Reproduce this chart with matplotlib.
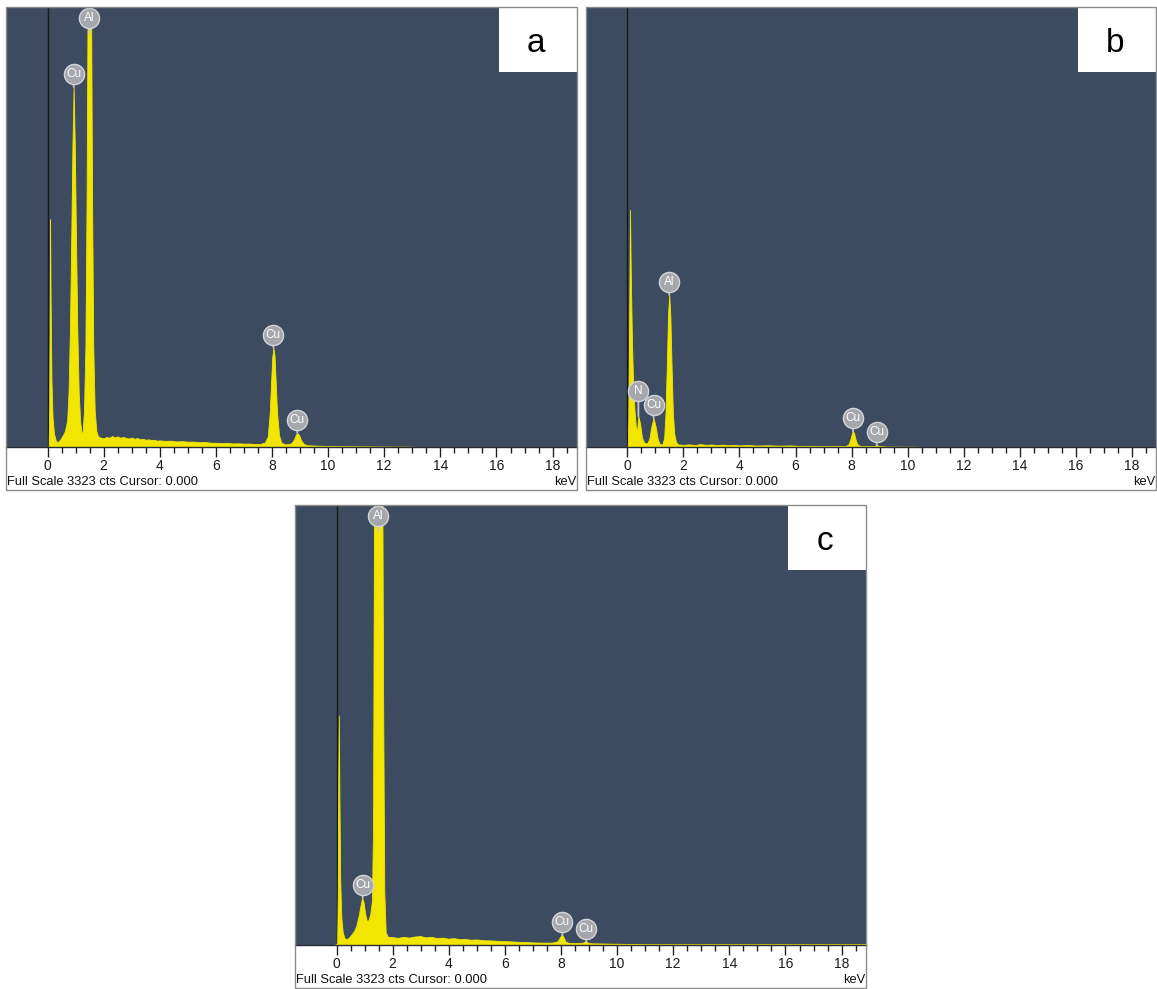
import matplotlib
matplotlib.use('Agg')
import matplotlib.pyplot as plt
from matplotlib.patches import Rectangle
from matplotlib.transforms import offset_copy
import numpy as np

plt.rcParams['font.family'] = ['Liberation Sans', 'DejaVu Sans']

# ---------------- data ----------------
FULL_SCALE = 3323          # counts at the top of each spectrum window
STATUS_TEXT = 'Full Scale 3323 cts Cursor: 0.000'
UNIT_TEXT = 'keV'
tick_values = [0, 2, 4, 6, 8, 10, 12, 14, 16, 18]
panel_letters = ['a', 'b', 'c']

# panel a spectrum
a_kev = [-0.02, 0.04, 0.06, 0.08, 0.09, 0.11, 0.14, 0.18, 0.23, 0.30,
         0.36, 0.45, 0.55, 0.62, 0.70, 0.75, 0.80, 0.85, 0.89, 0.93,
         0.97, 1.01, 1.06, 1.11, 1.16, 1.21, 1.25, 1.30, 1.35, 1.39,
         1.43, 1.46, 1.49, 1.52, 1.55, 1.59, 1.63, 1.68, 1.74, 1.80,
         1.90, 2.00, 2.10, 2.20, 2.30, 2.40, 2.50, 2.60, 2.70, 2.80,
         2.90, 3.00, 3.10, 3.20, 3.30, 3.40, 3.50, 3.60, 3.70, 3.80,
         3.90, 4.00, 4.20, 4.40, 4.60, 4.80, 5.00, 5.20, 5.40, 5.60,
         5.80, 6.00, 6.20, 6.40, 6.60, 6.80, 7.00, 7.20, 7.40, 7.60,
         7.75, 7.85, 7.92, 7.97, 8.01, 8.05, 8.09, 8.13, 8.18, 8.25,
         8.33, 8.45, 8.60, 8.70, 8.78, 8.85, 8.90, 8.96, 9.03, 9.12,
         9.25, 9.40, 9.60, 9.80, 10.0, 10.3, 10.6, 10.9, 11.2, 11.5,
         11.8, 12.1, 12.4, 12.7, 13.0, 13.2, 18.9]
a_cts = [0, 0, 300, 1200, 1720, 1100, 500, 220, 100, 45,
         35, 55, 90, 120, 200, 420, 900, 1650, 2300, 2720,
         2300, 1650, 900, 420, 200, 110, 110, 280, 750, 1800,
         3400, 4300, 4600, 4300, 3400, 1800, 750, 280, 120, 80,
         70, 66, 76, 70, 82, 74, 80, 70, 76, 68,
         64, 72, 62, 68, 58, 62, 54, 58, 52, 55,
         48, 50, 46, 48, 42, 44, 40, 41, 36, 38,
         33, 32, 30, 31, 27, 28, 25, 26, 22, 24,
         34, 80, 260, 500, 680, 750, 690, 500, 260, 90,
         35, 20, 22, 30, 55, 92, 106, 92, 55, 24,
         14, 12, 10, 9, 8, 7, 6, 6, 5, 5,
         4, 4, 3, 3, 2, 0, 0]

# panel b spectrum
b_kev = [-0.02, 0.01, 0.03, 0.06, 0.09, 0.12, 0.16, 0.20, 0.25, 0.30,
         0.34, 0.39, 0.45, 0.52, 0.60, 0.70, 0.78, 0.85, 0.93, 1.01,
         1.08, 1.15, 1.25, 1.31, 1.36, 1.41, 1.45, 1.49, 1.53, 1.57,
         1.62, 1.67, 1.73, 1.80, 2.00, 2.20, 2.40, 2.60, 2.80, 3.00,
         3.20, 3.40, 3.60, 3.80, 4.00, 4.30, 4.60, 5.00, 5.40, 5.80,
         6.20, 6.60, 7.00, 7.40, 7.80, 7.90, 7.97, 8.02, 8.05, 8.09,
         8.14, 8.20, 8.30, 8.60, 8.80, 8.90, 9.00, 9.20, 9.60, 10.2,
         10.6, 18.9]
b_cts = [0, 0, 200, 900, 1790, 1300, 800, 500, 280, 150,
         115, 234, 175, 70, 30, 28, 60, 150, 220, 150,
         60, 22, 20, 70, 260, 650, 1000, 1150, 1000, 650,
         260, 100, 40, 20, 16, 20, 14, 22, 16, 19,
         14, 18, 13, 16, 12, 15, 11, 13, 10, 12,
         8, 9, 6, 7, 8, 22, 65, 108, 120, 105,
         60, 22, 8, 6, 8, 14, 8, 4, 3, 2,
         0, 0]

# panel c spectrum
c_kev = [-0.02, 0.04, 0.06, 0.08, 0.10, 0.12, 0.15, 0.19, 0.24, 0.30,
         0.36, 0.45, 0.55, 0.65, 0.72, 0.80, 0.87, 0.93, 0.98, 1.04,
         1.10, 1.16, 1.22, 1.28, 1.32, 1.35, 1.40, 1.49, 1.58, 1.64,
         1.68, 1.72, 1.77, 1.85, 2.00, 2.20, 2.40, 2.60, 2.80, 3.00,
         3.20, 3.40, 3.60, 3.80, 4.00, 4.20, 4.40, 4.60, 4.80, 5.00,
         5.30, 5.60, 5.90, 6.20, 6.50, 6.80, 7.10, 7.40, 7.70, 7.90,
         7.98, 8.05, 8.11, 8.18, 8.30, 8.60, 8.80, 8.90, 8.98, 9.10,
         9.40, 9.80, 10.2, 10.6, 11.0, 18.9]
c_cts = [0, 0, 350, 1250, 1730, 1100, 480, 200, 90, 50,
         38, 50, 75, 105, 140, 210, 290, 355, 320, 230,
         175, 185, 230, 330, 900, 3000, 9000, 20000, 9000, 4000,
         1800, 400, 90, 58, 56, 50, 58, 52, 60, 64,
         54, 58, 48, 52, 44, 48, 40, 42, 36, 38,
         32, 30, 26, 24, 20, 18, 15, 14, 14, 25,
         55, 75, 55, 22, 12, 10, 14, 25, 14, 9,
         8, 6, 5, 3, 0, 0]

# element labels: (element, energy keV, peak counts)
a_labels = [('Cu', 0.93, 2720), ('Al', 1.49, 4600), ('Cu', 8.05, 750), ('Cu', 8.90, 106)]
b_labels = [('N', 0.39, 234), ('Cu', 0.93, 220), ('Al', 1.49, 1150), ('Cu', 8.05, 120), ('Cu', 8.90, 14)]
c_labels = [('Al', 1.49, 20000), ('Cu', 0.93, 355), ('Cu', 8.05, 75), ('Cu', 8.90, 25)]

# ---------------- layout / style ----------------
W, H, DPI = 1157, 989, 100
XMIN, XMAX = -1.48, 18.87
DARK = '#3c4b5f'
YELLOW = '#f2e600'

fig = plt.figure(figsize=(W / DPI, H / DPI), dpi=DPI)
fig.patch.set_facecolor('white')

# pixel boxes: (left, top, right, baseline, box_bottom)
boxes = [(6, 7, 577, 447, 490), (586, 7, 1156, 447, 490), (295, 505, 866, 945, 988)]
spectra = [(a_kev, a_cts, a_labels), (b_kev, b_cts, b_labels), (c_kev, c_cts, c_labels)]
label_offsets = {('b', 'N'): 25}


def draw_panel(box, spec, letter):
    l, t, r, b, bb = box
    kev, cts, labels = spec
    ax = fig.add_axes([l / W, 1 - b / H, (r - l) / W, (b - t) / H])
    ax.set_facecolor(DARK)
    ax.set_xlim(XMIN, XMAX)
    ax.set_ylim(0, FULL_SCALE)
    ax.axvline(0, color='#15181c', lw=1.0, zorder=1)
    ax.fill_between(kev, cts, 0, color=YELLOW, lw=0.6, edgecolor=YELLOW, zorder=2)
    for s in ['top', 'right', 'left']:
        ax.spines[s].set_visible(False)
    ax.spines['bottom'].set_color('#2a2d33')
    ax.spines['bottom'].set_linewidth(1.0)
    ax.set_yticks([])
    ax.set_xticks(tick_values)
    ax.set_xticks(np.arange(0, 18.9, 0.5), minor=True)
    ax.set_xticklabels([str(v) for v in tick_values])
    ax.tick_params(axis='x', which='major', direction='out', length=7, width=1,
                   color='#222222', labelsize=10, pad=2, labelcolor='#1a1a1a')
    ax.tick_params(axis='x', which='minor', direction='out', length=4, width=1,
                   color='#222222')

    # element labels
    for name, e, pk in labels:
        if pk >= FULL_SCALE:
            ya, cc, sb = FULL_SCALE, -11, -26
        else:
            ya, cc, sb = pk, label_offsets.get((letter, name), 13), 0
        tr_c = offset_copy(ax.transData, fig=fig, x=0, y=cc, units='dots')
        tr_s = offset_copy(ax.transData, fig=fig, x=0, y=sb, units='dots')
        ax.annotate('', xy=(e, ya), xycoords=tr_s, xytext=(e, ya), textcoords=tr_c,
                    arrowprops=dict(arrowstyle='-', color='#c6c7cb', lw=1.3,
                                    shrinkA=0, shrinkB=0), zorder=5, annotation_clip=False)
        ax.plot([e], [ya], marker='o', ms=14.5, mfc='#a5a7ad', mec='#d3d4d8', mew=1.0,
                transform=tr_c, clip_on=False, zorder=6, ls='none')
        ax.text(e, ya, name, transform=tr_c, ha='center', va='center', color='white',
                fontsize=8.5, zorder=7, clip_on=False)

    # letter box
    aw, ah = r - l, b - t
    ax.add_patch(Rectangle((1 - 78 / aw, 1 - 65 / ah), 78 / aw, 65 / ah, transform=ax.transAxes,
                           facecolor='white', edgecolor='none', zorder=10, clip_on=False))
    ax.text(1 - 41 / aw, 1 - 45 / ah, letter, transform=ax.transAxes, ha='center',
            va='baseline', fontsize=24, color='black', zorder=11)

    # outer border and status line
    fig.patches.append(Rectangle((l / W, 1 - bb / H), (r - l) / W, (bb - t) / H,
                                 transform=fig.transFigure, fill=False,
                                 edgecolor='#8c8c8c', lw=1.0, zorder=20))
    fig.text((l + 1) / W, 1 - (b + 35) / H, STATUS_TEXT, ha='left', va='center',
             fontsize=9.3, color='#111111')
    fig.text((r - 1) / W, 1 - (b + 35) / H, UNIT_TEXT, ha='right', va='center',
             fontsize=9.3, color='#111111')


for box, spec, letter in zip(boxes, spectra, panel_letters):
    draw_panel(box, spec, letter)

fig.savefig('out.png', dpi=DPI, facecolor='white')
